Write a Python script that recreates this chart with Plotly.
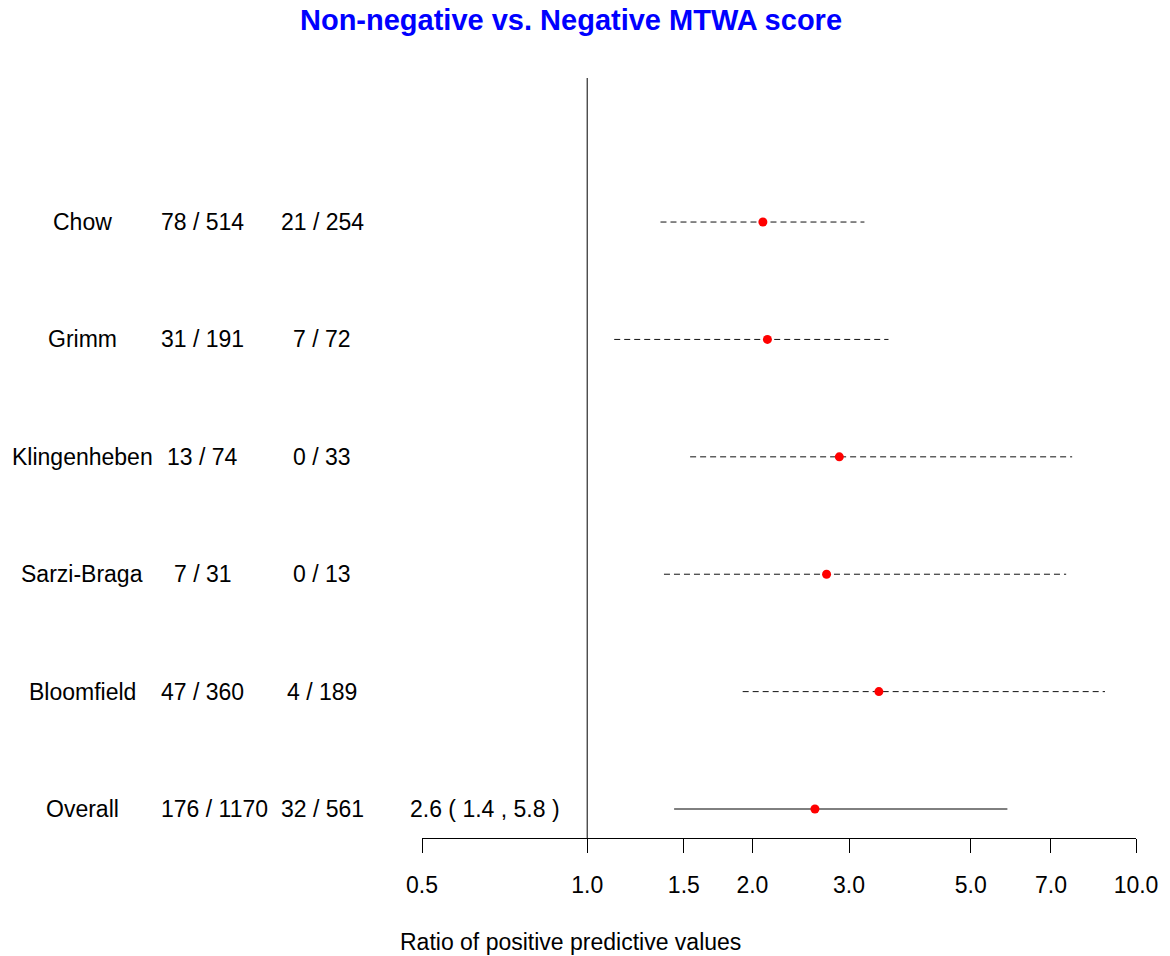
import plotly.graph_objects as go

studies = ["Chow", "Grimm", "Klingenheben", "Sarzi-Braga", "Bloomfield", "Overall"]
nonneg = ["78 / 514", "31 / 191", "13 / 74", "7 / 31", "47 / 360", "176 / 1170"]
neg = ["21 / 254", "7 / 72", "0 / 33", "0 / 13", "4 / 189", "32 / 561"]
ratio = [2.09, 2.13, 2.88, 2.73, 3.40, 2.60]
lower = [1.36, 1.12, 1.54, 1.38, 1.92, 1.44]
upper = [3.20, 3.54, 7.65, 7.46, 8.78, 5.83]
overall_text = "2.6 ( 1.4 , 5.8 )"
tick_vals = [0.5, 1.0, 1.5, 2.0, 3.0, 5.0, 7.0, 10.0]
tick_text = ["0.5", "1.0", "1.5", "2.0", "3.0", "5.0", "7.0", "10.0"]

n = len(studies)
ypos = [n - 1 - i for i in range(n)]

FONT = "Liberation Sans, Arial, sans-serif"
fig = go.Figure()

for i in range(n):
    is_overall = studies[i] == "Overall"
    fig.add_trace(go.Scatter(
        x=[lower[i], upper[i]], y=[ypos[i], ypos[i]], mode="lines",
        line=dict(color="#000000" if is_overall else "#111111", width=1,
                  dash="solid" if is_overall else "6px,4px"),
        showlegend=False, hoverinfo="skip"))

fig.add_trace(go.Scatter(
    x=ratio, y=ypos, mode="markers",
    marker=dict(color="#ff0000", size=9, line=dict(width=0)),
    showlegend=False))

fig.add_shape(type="line", xref="x", yref="paper", x0=1, x1=1, y0=0, y1=1,
              line=dict(color="black", width=1))

def px_to_paper(px):
    return (px - 422) / 717.0

ann = []
for i in range(n):
    is_overall = studies[i] == "Overall"
    ann.append(dict(x=px_to_paper(81), y=ypos[i], xref="paper", yref="y",
                    text=studies[i], showarrow=False, xanchor="center", yanchor="middle",
                    font=dict(size=23, color="black", family=FONT)))
    ann.append(dict(x=px_to_paper(214 if is_overall else 202), y=ypos[i], xref="paper", yref="y",
                    text=nonneg[i], showarrow=False, xanchor="center", yanchor="middle",
                    font=dict(size=23, color="black", family=FONT)))
    ann.append(dict(x=px_to_paper(322), y=ypos[i], xref="paper", yref="y",
                    text=neg[i], showarrow=False, xanchor="center", yanchor="middle",
                    font=dict(size=23, color="black", family=FONT)))
ann.append(dict(x=px_to_paper(485), y=ypos[-1], xref="paper", yref="y",
                text=overall_text, showarrow=False, xanchor="center", yanchor="middle",
                font=dict(size=23, color="black", family=FONT)))
ann.append(dict(x=px_to_paper(571), y=(838 - 942) / 760.0, xref="paper", yref="paper",
                text="Ratio of positive predictive values", showarrow=False,
                xanchor="center", yanchor="middle",
                font=dict(size=23, color="black", family=FONT)))
ann.append(dict(x=px_to_paper(572), y=(838 - 20) / 760.0, xref="paper", yref="paper",
                text="<b>Non-negative vs. Negative MTWA score</b>", showarrow=False,
                xanchor="center", yanchor="middle",
                font=dict(size=29, color="#0000ff", family=FONT)))

fig.update_layout(
    width=1170, height=956,
    margin=dict(l=422, r=29, t=78, b=118, pad=0),
    plot_bgcolor="white", paper_bgcolor="white",
    annotations=ann,
    xaxis=dict(type="log", range=[-0.30103, 1.0], tickvals=tick_vals, ticktext=tick_text,
               showgrid=False, zeroline=False, showline=True, linecolor="black", linewidth=1,
               ticks="outside", ticklen=14, tickwidth=1, tickcolor="black",
               ticklabelstandoff=12,
               tickfont=dict(size=23, color="black", family=FONT)),
    yaxis=dict(range=[-0.247, 6.227], showgrid=False, zeroline=False, showline=False,
               showticklabels=False, ticks=""),
)

fig.write_html("out.html", config={"displayModeBar": False},
               post_script="document.body.style.margin='0';document.body.style.overflow='hidden';")
